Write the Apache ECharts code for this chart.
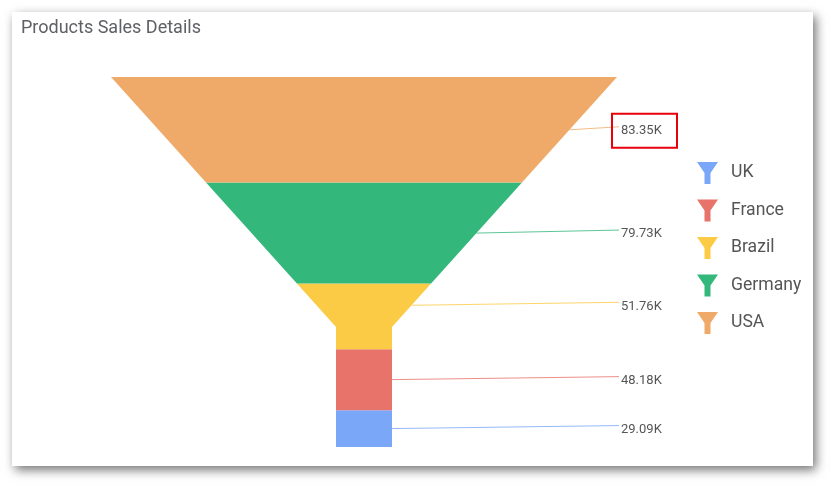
<!DOCTYPE html>
<html><head><meta charset="utf-8">
<script src="https://cdn.jsdelivr.net/npm/echarts@6/dist/echarts.min.js"></script>
<style>
html,body{margin:0;padding:0;background:#fff;width:833px;height:486px;overflow:hidden;}
#card{position:absolute;left:12px;top:12px;width:801px;height:454px;background:#fff;box-shadow:3px 4px 10px rgba(0,0,0,0.55);}
#chart{position:absolute;left:0;top:0;width:833px;height:486px;}
</style></head><body>
<div id="card"></div><div id="chart"></div>
<script>
const categories = ['UK', 'France', 'Brazil', 'Germany', 'USA'];
const values = [29.09, 48.18, 51.76, 79.73, 83.35];
const colors = ['#7BA7F9', '#E7736A', '#FCCB45', '#34B77B', '#EFAA69'];
const highlighted = 'USA';

// funnel shape settings (style)
const TOP_HALF = 253;
const NECK_HALF_RATIO = 0.1107;
const NECK_HEIGHT_RATIO = 0.3243;

const total = values.reduce((a, b) => a + b, 0);
const order = categories.map((c, i) => i).reverse();
let cum = 0; const ranges = {};
order.forEach(i => { ranges[i] = [cum, cum + values[i]]; cum += values[i]; });

const neckStart = total * (1 - NECK_HEIGHT_RATIO);
const neckHalf = TOP_HALF * NECK_HALF_RATIO;
function halfW(y) { return y >= neckStart ? neckHalf : TOP_HALF - (TOP_HALF - neckHalf) * y / neckStart; }

function makeRender(name) {
  return function (params, api) {
    const s = api.value(0), e = api.value(1), v = api.value(2);
    const crosses = neckStart > s && neckStart < e;
    const ys = [s]; if (crosses) ys.push(neckStart); ys.push(e);
    const pts = [];
    ys.forEach(y => pts.push(api.coord([-halfW(y), y])));
    ys.slice().reverse().forEach(y => pts.push(api.coord([halfW(y), y])));
    const color = api.visual('color');
    const aEnd = crosses ? neckStart : e;
    const ay = (s + aEnd) / 2;
    const anchor = api.coord([halfW(ay), ay]);
    const labelX = api.coord([TOP_HALF, 0])[0] + 3;
    const children = [
      { type: 'polygon', shape: { points: pts }, style: { fill: color } },
      { type: 'line', shape: { x1: anchor[0], y1: anchor[1], x2: labelX - 1, y2: anchor[1] - 3 },
        style: { stroke: color, lineWidth: 1, opacity: 0.8 } },
      { type: 'text', x: labelX + 1, y: anchor[1] + 1,
        style: { text: v.toFixed(2) + 'K', fill: '#555', font: '13px Roboto', verticalAlign: 'middle', align: 'left' } }
    ];
    if (name === highlighted) {
      children.push({ type: 'rect', shape: { x: labelX - 8, y: anchor[1] - 16, width: 65, height: 34 },
        style: { fill: 'none', stroke: '#E8000B', lineWidth: 2 } });
    }
    return { type: 'group', children: children };
  };
}

const chart = echarts.init(document.getElementById('chart'));
chart.setOption({
  animation: false,
  color: colors,
  title: { text: 'Products Sales Details', left: 16, top: 14,
    textStyle: { fontSize: 18, fontWeight: 'normal', color: '#5f6065', fontFamily: 'Roboto' } },
  legend: {
    data: categories, orient: 'vertical', left: 692, top: 157,
    itemWidth: 21, itemHeight: 22, itemGap: 15.5,
    icon: 'path://M0,0 L21,0 L13.5,11 L13.5,22 L7.5,22 L7.5,11 Z',
    textStyle: { fontSize: 17.6, color: '#555', fontFamily: 'Roboto', padding: [0, 0, 0, 8] }
  },
  grid: { left: 111, right: 216, top: 77, bottom: 39 },
  xAxis: { type: 'value', min: -TOP_HALF, max: TOP_HALF, show: false },
  yAxis: { type: 'value', min: 0, max: total, inverse: true, show: false },
  series: categories.map((c, i) => ({
    type: 'custom', name: c, clip: false,
    itemStyle: { color: colors[i] },
    renderItem: makeRender(c),
    encode: { x: 0, y: [0, 1] },
    data: [[ranges[i][0], ranges[i][1], values[i]]]
  }))
});
</script>
</body></html>
